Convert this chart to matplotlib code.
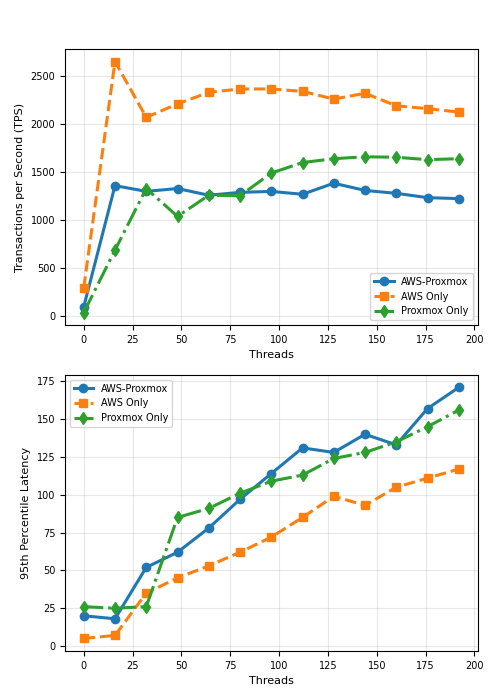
import matplotlib
matplotlib.use("Agg")
import matplotlib.pyplot as plt

threads = [0, 16, 32, 48, 64, 80, 96, 112, 128, 144, 160, 176, 192]
tps_aws_proxmox = [100, 1360, 1300, 1330, 1260, 1290, 1300, 1270, 1385, 1310, 1280, 1235, 1225]
tps_aws_only = [300, 2650, 2070, 2210, 2330, 2365, 2365, 2340, 2260, 2320, 2190, 2160, 2125]
tps_proxmox_only = [40, 690, 1330, 1040, 1260, 1255, 1490, 1600, 1640, 1660, 1655, 1630, 1640]
lat_aws_proxmox = [20, 18, 52, 62, 78, 97, 114, 131, 128, 140, 133, 157, 171]
lat_aws_only = [5, 7, 35, 45, 53, 62, 72, 85, 99, 93, 105, 111, 117]
lat_proxmox_only = [26, 25, 26, 85, 91, 101, 109, 113, 124, 128, 135, 145, 156]

fig, (ax1, ax2) = plt.subplots(2, 1, figsize=(5, 7), dpi=100)
fig.subplots_adjust(left=0.13, right=0.955, top=0.93, bottom=0.07, hspace=0.18)

def draw(ax, a, b, c, ylabel, loc):
    ax.plot(threads, a, '-', marker='o', color='#1f77b4', lw=2.2, ms=6, label='AWS-Proxmox')
    ax.plot(threads, b, '--', marker='s', color='#ff7f0e', lw=2.2, ms=6, label='AWS Only')
    ax.plot(threads, c, '-.', marker='d', color='#2ca02c', lw=2.2, ms=6.5, label='Proxmox Only')
    ax.set_xlabel('Threads', fontsize=8)
    ax.set_ylabel(ylabel, fontsize=8)
    ax.tick_params(labelsize=7)
    ax.grid(True, alpha=0.3)
    ax.set_xticks(range(0, 201, 25))
    ax.legend(loc=loc, fontsize=7)

draw(ax1, tps_aws_proxmox, tps_aws_only, tps_proxmox_only, 'Transactions per Second (TPS)', 'lower right')
draw(ax2, lat_aws_proxmox, lat_aws_only, lat_proxmox_only, '95th Percentile Latency', 'upper left')
ax1.set_yticks(range(0, 2501, 500))
ax2.set_yticks(range(0, 176, 25))
fig.savefig('out.png')
